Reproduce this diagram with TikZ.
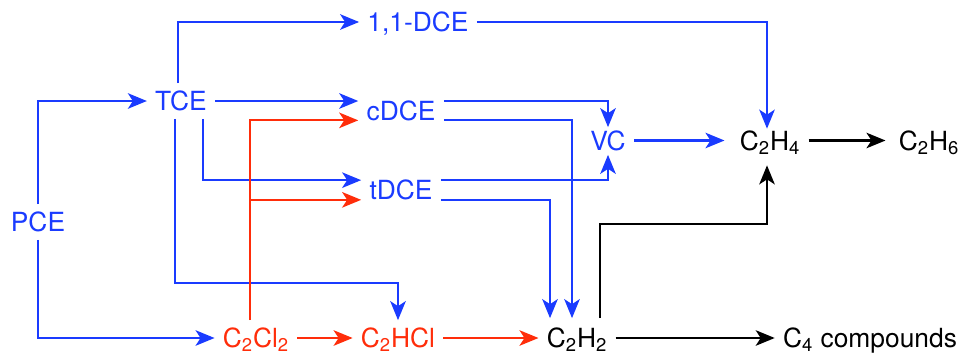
\documentclass[tikz,border=0pt]{standalone}
\usepackage{fontspec}
\setmainfont{TeX Gyre Heros}
\usepackage{tikz}
\usetikzlibrary{positioning,arrows.meta,calc}
\definecolor{pathblue}{HTML}{1A3BFF}
\definecolor{pathred}{HTML}{FF2D0A}
\newcommand{\sub}[1]{\textsubscript{#1}}
\tikzset{
  >={Stealth[length=3.8mm,width=3.1mm,inset=1mm]},
  chem/.style={inner sep=0pt,text height=3.8mm,text depth=0pt,
    font=\fontsize{15}{18}\selectfont},
  flow/.style={->,line width=0.45mm,shorten >=1.6mm,shorten <=1.6mm},
  bflow/.style={flow,color=pathblue},
  rflow/.style={flow,color=pathred},
  kflow/.style={flow,color=black},
}
\begin{document}
\begin{tikzpicture}[x=0.2mm,y=-0.2mm]
  \useasboundingbox (0,0) rectangle (963,354);
  % species
  \node[chem,pathblue] (PCE) at (38,222) {PCE};
  \node[chem,pathblue] (TCE) at (181,101) {TCE};
  \node[chem,pathblue] (DCE11) at (418,22) {1,1-DCE};
  \node[chem,pathblue] (cDCE) at (401,110.5) {cDCE};
  \node[chem,pathblue] (tDCE) at (401,190) {tDCE};
  \node[chem,pathblue] (VC) at (608,140.5) {VC};
  \node[chem] (C2H4) at (770,140.5) {C\sub{2}H\sub{4}};
  \node[chem] (C2H6) at (929,140.5) {C\sub{2}H\sub{6}};
  \node[chem,pathred] (C2Cl2) at (256,338) {C\sub{2}Cl\sub{2}};
  \node[chem,pathred] (C2HCl) at (398,338) {C\sub{2}HCl};
  \node[chem] (C2H2) at (577,338) {C\sub{2}H\sub{2}};
  \node[chem] (C4) at (870,338) {C\sub{4} compounds};
  \coordinate (lowbus) at (0,283);
  \coordinate (upbus) at (0,224);
  \coordinate (clup) at ([xshift=-1.2mm]C2Cl2.north);
  \coordinate (hhout) at ([xshift=4.6mm]C2H2.north);
  % blue steps
  \draw[bflow] (PCE.north) |- (TCE.west);
  \draw[bflow] (PCE.south) |- (C2Cl2.west);
  \draw[bflow] ([xshift=-0.6mm]TCE.north) |- (DCE11.west);
  \draw[bflow] (TCE.east) -- (TCE.east -| cDCE.west);
  \draw[bflow] ([xshift=-0.8mm]TCE.south east) |- (tDCE.north west);
  \draw[bflow] ([xshift=-1.2mm]TCE.south) |- (lowbus -| C2HCl.north)
    -- (C2HCl.north);
  \draw[bflow,shorten >=0.4mm] (DCE11.east) -| ([xshift=-0.6mm]C2H4.north);
  \draw[bflow,shorten >=0.7mm] (cDCE.north east) -| (VC.north);
  \draw[bflow,shorten >=0.9mm] (tDCE.north east) -| (VC.south);
  \draw[bflow,shorten >=2mm] (cDCE.south east) -| ([xshift=-1mm]C2H2.north);
  \draw[bflow,shorten >=2mm] (tDCE.south east) -| ([xshift=-5.4mm]C2H2.north);
  \draw[bflow,shorten >=3mm] (VC.east) -- (C2H4.west);
  % red steps
  \draw[rflow] (clup) |- (cDCE.south west);
  \draw[rflow,shorten <=0pt] (clup |- tDCE.south west) -- (tDCE.south west);
  \draw[rflow] (C2Cl2.east) -- (C2HCl.west);
  \draw[rflow] (C2HCl.east) -- (C2H2.west);
  % black steps
  \draw[kflow,shorten >=2.6mm] (C2H4.east) -- (C2H6.west);
  \draw[kflow,shorten <=2mm,shorten >=3mm] (hhout) -- (hhout |- upbus)
    -| ([xshift=-0.6mm]C2H4.south);
  \draw[kflow] (C2H2.east) -- (C4.west);
\end{tikzpicture}
\end{document}
